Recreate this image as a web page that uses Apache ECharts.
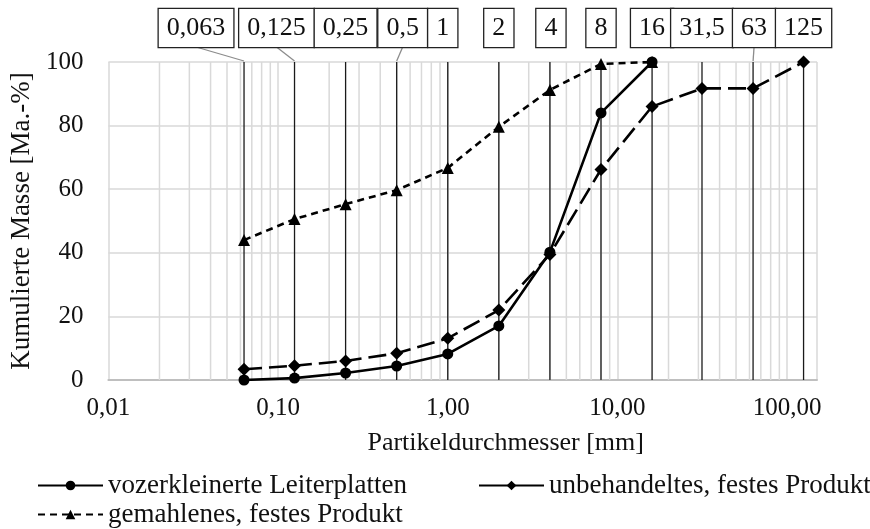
<!DOCTYPE html>
<html>
<head>
<meta charset="utf-8">
<script src="https://cdn.jsdelivr.net/npm/echarts@6/dist/echarts.min.js"></script>
<style>
  html, body { margin: 0; padding: 0; background: #fff; }
  #chart { width: 870px; height: 529px; }
</style>
</head>
<body>
<div id="chart"></div>
<script>
const SERIF = '"Liberation Serif", "Times New Roman", serif';
const INK = '#111';
const GRID_GRAY = '#d9d9d9';

// sieve sizes [mm] and their box labels
const SIEVES = [0.063, 0.125, 0.25, 0.5, 1, 2, 4, 8, 16, 31.5, 63, 125];
const SIEVE_LABELS = ['0,063', '0,125', '0,25', '0,5', '1', '2', '4', '8', '16', '31,5', '63', '125'];

// cumulative mass [Ma.-%]
const NAMES = [
  'vozerkleinerte Leiterplatten',
  'unbehandeltes, festes Produkt',
  'gemahlenes, festes Produkt',
];
const SIZES_SHORT = [0.063, 0.125, 0.25, 0.5, 1, 2, 4, 8, 16];
const LEITERPLATTEN = [0, 0.6, 2.2, 4.4, 8.2, 17, 40.2, 84, 100];
const UNBEHANDELT = [3.4, 4.5, 6, 8.4, 13.1, 22, 39.5, 66.2, 86, 91.7, 91.7, 100];
const GEMAHLEN = [44, 50.6, 55.3, 59.7, 66.7, 79.6, 91.2, 99.4, 100];

// light log-paper lines between decades
const MINOR_X = [];
[0.01, 0.1, 1, 10].forEach(d => {
  for (let k = 2; k <= 9; k++) MINOR_X.push(+(k * d).toPrecision(3));
});

// label boxes: horizontal shift from their line (px) and whether a leader is drawn
const BOX_SHIFT = [-48, -18, 0, 6, -5, 0, 1, 0, 0, 0, 1, 0];
const HAS_LEADER = [true, true, false, true, false, false, false, false, false, false, true, false];

const chart = echarts.init(document.getElementById('chart'));

const pairs = (xs, ys) => xs.map((x, i) => [x, ys[i]]);
const isDecade = v => Math.abs(Math.log10(v) - Math.round(Math.log10(v))) < 1e-6;
const legendText = { fontFamily: SERIF, fontSize: 27, color: INK };

chart.setOption({
  animation: false,
  backgroundColor: '#fff',
  grid: { left: 108, right: 53, top: 62, bottom: 149 },
  xAxis: {
    type: 'log',
    logBase: 10,
    min: 0.01,
    max: 150,
    name: 'Partikeldurchmesser [mm]',
    nameLocation: 'middle',
    nameGap: 50,
    nameTextStyle: { fontFamily: SERIF, fontSize: 26, color: INK, padding: [0, 0, 0, 86] },
    axisLine: { show: true, lineStyle: { color: '#bfbfbf', width: 2 } },
    axisTick: { show: false },
    axisLabel: {
      fontFamily: SERIF, fontSize: 25, color: INK, margin: 16,
      formatter: v => isDecade(v) ? v.toFixed(2).replace('.', ',') : '',
    },
    splitLine: { show: true, lineStyle: { color: GRID_GRAY, width: 1.5 } },
  },
  yAxis: {
    type: 'value',
    min: 0,
    max: 100,
    interval: 20,
    name: 'Kumulierte Masse [Ma.-%]',
    nameLocation: 'middle',
    nameGap: 70,
    nameTextStyle: { fontFamily: SERIF, fontSize: 27, color: INK },
    axisLine: { show: false },
    axisTick: { show: false },
    axisLabel: { fontFamily: SERIF, fontSize: 25, color: INK, margin: 25 },
    splitLine: { lineStyle: { color: GRID_GRAY, width: 1.5 } },
  },
  legend: [
    {
      data: [NAMES[0]],
      left: 32, top: 467,
      itemWidth: 65, itemHeight: 12,
      textStyle: legendText,
    },
    {
      data: [{ name: NAMES[1], lineStyle: { type: 'solid' } }],
      left: 473, top: 467,
      itemWidth: 65, itemHeight: 12,
      textStyle: legendText,
    },
    {
      data: [NAMES[2]],
      left: 32, top: 496,
      itemWidth: 65, itemHeight: 12,
      textStyle: legendText,
    },
  ],
  series: [
    {
      type: 'custom',
      name: 'minor',
      z: 1,
      silent: true,
      data: MINOR_X.map(v => [v]),
      renderItem: (params, api) => {
        const a = api.coord([api.value(0), 0]);
        const b = api.coord([api.value(0), 100]);
        return {
          type: 'line',
          shape: { x1: a[0], y1: a[1], x2: b[0], y2: b[1] },
          style: { stroke: GRID_GRAY, lineWidth: 1.5 },
        };
      },
    },
    {
      type: 'custom',
      name: 'sieves',
      z: 2,
      silent: true,
      data: SIEVES.map((s, i) => [s, i]),
      renderItem: (params, api) => {
        const i = api.value(1);
        const top = api.coord([api.value(0), 100]);
        const bot = api.coord([api.value(0), 0]);
        const bx = top[0] + BOX_SHIFT[i];
        const boxBottom = top[1] - 15;
        const children = [{
          type: 'line',
          shape: { x1: top[0], y1: top[1], x2: bot[0], y2: bot[1] },
          style: { stroke: '#1a1a1a', lineWidth: 1.3 },
        }];
        if (HAS_LEADER[i]) {
          children.push({
            type: 'line',
            shape: { x1: bx, y1: boxBottom, x2: top[0], y2: top[1] - 1 },
            style: { stroke: '#8c8c8c', lineWidth: 1.3 },
          });
        }
        children.push({
          type: 'text',
          x: bx,
          y: boxBottom - 19,
          style: {
            text: SIEVE_LABELS[i],
            font: '26px ' + SERIF,
            fill: INK,
            align: 'center',
            verticalAlign: 'middle',
            backgroundColor: '#fff',
            borderColor: '#222',
            borderWidth: 1.3,
            padding: [6, 8],
          },
        });
        return { type: 'group', children };
      },
    },
    {
      name: NAMES[0],
      type: 'line',
      z: 5,
      data: pairs(SIZES_SHORT, LEITERPLATTEN),
      symbol: 'circle',
      symbolSize: 11,
      itemStyle: { color: '#000' },
      lineStyle: { color: '#000', width: 2.6 },
      emphasis: { disabled: true },
    },
    {
      name: NAMES[1],
      type: 'line',
      z: 4,
      data: pairs(SIEVES, UNBEHANDELT),
      symbol: 'diamond',
      symbolSize: 13,
      itemStyle: { color: '#000' },
      lineStyle: { color: '#000', width: 2.6, type: [18, 7] },
      emphasis: { disabled: true },
    },
    {
      name: NAMES[2],
      type: 'line',
      z: 4,
      data: pairs(SIZES_SHORT, GEMAHLEN),
      symbol: 'triangle',
      symbolSize: 12,
      itemStyle: { color: '#000' },
      lineStyle: { color: '#000', width: 2.6, type: [7, 5] },
      emphasis: { disabled: true },
    },
  ],
});
</script>
</body>
</html>
